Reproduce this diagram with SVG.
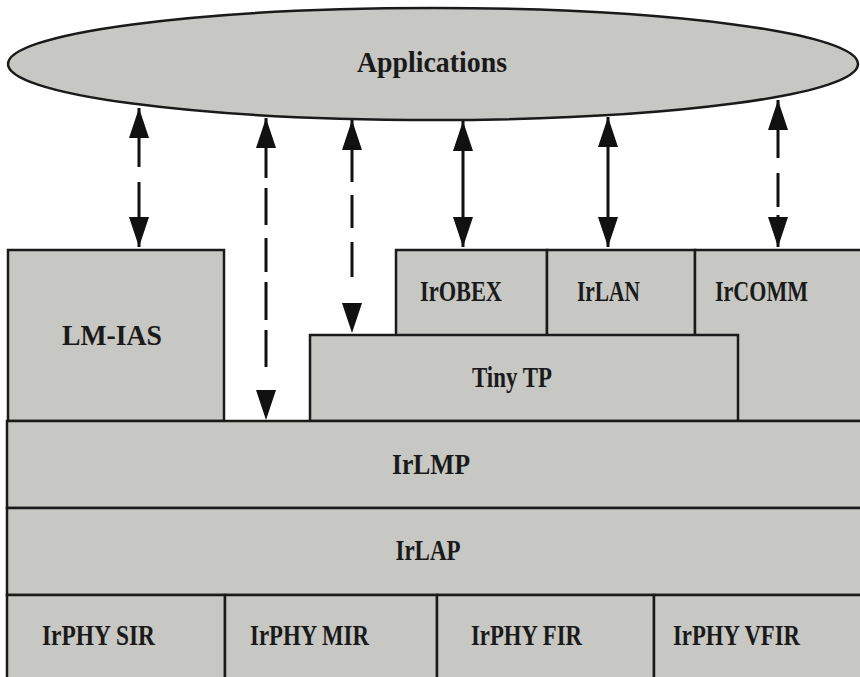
<svg xmlns="http://www.w3.org/2000/svg" width="860" height="677" viewBox="0 0 860 677">
<defs>
<marker id="ah" viewBox="0 0 30 20" refX="30" refY="10" markerWidth="30" markerHeight="20" markerUnits="userSpaceOnUse" orient="auto-start-reverse">
<path d="M0,0 L30,10 L0,20 z" fill="#111"/>
</marker>
<style>
.box{fill:#c7c7c3;stroke:#1a1a1a;stroke-width:2.5}
.lbl{font-family:'Liberation Serif','Times New Roman',serif;font-weight:bold;font-size:29px;fill:#1a1a1a}
.c{text-anchor:middle}
.arr{stroke:#111;stroke-width:3;fill:none;marker-start:url(#ah);marker-end:url(#ah)}
</style>
</defs>
<rect width="860" height="677" fill="#ffffff"/>
<g id="applications">
<ellipse cx="433" cy="64" rx="425" ry="56" class="box"/>
<text x="432" y="72" class="lbl c" textLength="150" lengthAdjust="spacingAndGlyphs">Applications</text>
</g>
<g id="lm-ias">
<rect x="8" y="250" width="216" height="171" class="box"/>
<text x="112" y="345" class="lbl c" textLength="100" lengthAdjust="spacingAndGlyphs">LM-IAS</text>
</g>
<g id="irobex">
<rect x="396" y="250" width="151" height="86" class="box"/>
<text x="420" y="301" class="lbl" textLength="82" lengthAdjust="spacingAndGlyphs">IrOBEX</text>
</g>
<g id="irlan">
<rect x="547" y="250" width="148" height="86" class="box"/>
<text x="577" y="301" class="lbl" textLength="63" lengthAdjust="spacingAndGlyphs">IrLAN</text>
</g>
<g id="ircomm">
<rect x="695" y="250" width="175" height="171" class="box"/>
<text x="715" y="301" class="lbl" textLength="93" lengthAdjust="spacingAndGlyphs">IrCOMM</text>
</g>
<g id="tinytp">
<rect x="310" y="335" width="428" height="86" class="box"/>
<text x="512" y="387" class="lbl c" textLength="80" lengthAdjust="spacingAndGlyphs">Tiny TP</text>
</g>
<g id="irlmp">
<rect x="7" y="421" width="863" height="87" class="box"/>
<text x="431" y="474" class="lbl c" textLength="78" lengthAdjust="spacingAndGlyphs">IrLMP</text>
</g>
<g id="irlap">
<rect x="7" y="508" width="863" height="87" class="box"/>
<text x="428" y="560" class="lbl c" textLength="65" lengthAdjust="spacingAndGlyphs">IrLAP</text>
</g>
<g id="irphy-sir">
<rect x="7" y="595" width="218" height="92" class="box"/>
<text x="42" y="645" class="lbl" textLength="113" lengthAdjust="spacingAndGlyphs">IrPHY SIR</text>
</g>
<g id="irphy-mir">
<rect x="225" y="595" width="212" height="92" class="box"/>
<text x="250" y="645" class="lbl" textLength="119" lengthAdjust="spacingAndGlyphs">IrPHY MIR</text>
</g>
<g id="irphy-fir">
<rect x="437" y="595" width="217" height="92" class="box"/>
<text x="471" y="645" class="lbl" textLength="111" lengthAdjust="spacingAndGlyphs">IrPHY FIR</text>
</g>
<g id="irphy-vfir">
<rect x="654" y="595" width="216" height="92" class="box"/>
<text x="673" y="645" class="lbl" textLength="127" lengthAdjust="spacingAndGlyphs">IrPHY VFIR</text>
</g>
<g id="connectors">
<line x1="139" y1="108" x2="139" y2="247" class="arr" stroke-dasharray="59 15 200"/>
<line x1="266" y1="118" x2="266" y2="420" class="arr" stroke-dasharray="60 10 37 13 34 10 38 10 37 100"/>
<line x1="352" y1="120" x2="352" y2="333" class="arr" stroke-dasharray="62 13 33 14 35 100"/>
<line x1="463" y1="121" x2="463" y2="247" class="arr"/>
<line x1="608" y1="117" x2="608" y2="247" class="arr"/>
<line x1="778" y1="100" x2="778" y2="247" class="arr" stroke-width="5" stroke-dasharray="58 15 34 8 100"/>
</g>
</svg>
